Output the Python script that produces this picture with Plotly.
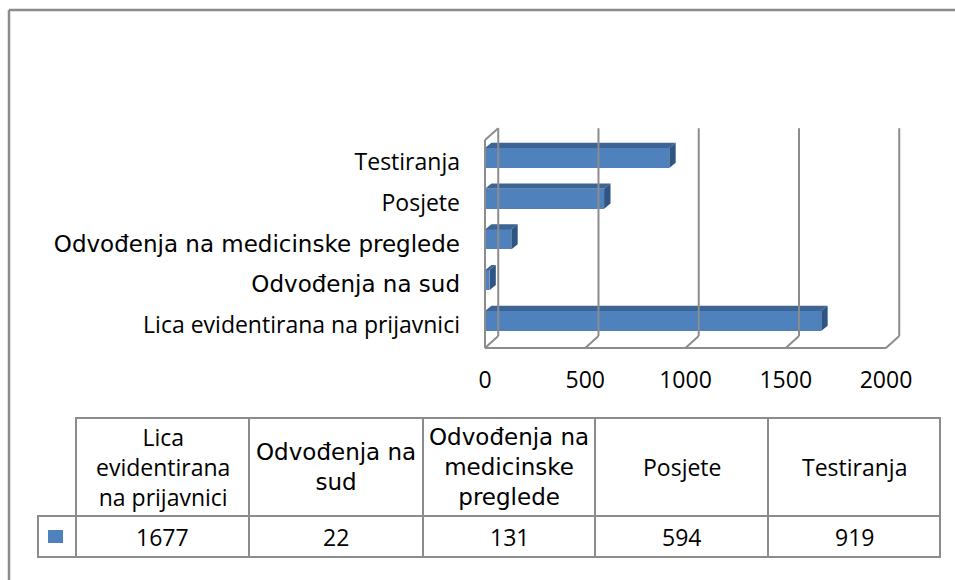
import plotly.graph_objects as go

# data, bottom to top as drawn in the chart
categories = ["Lica evidentirana na prijavnici", "Odvođenja na sud",
              "Odvođenja na medicinske preglede", "Posjete", "Testiranja"]
values = [1677, 22, 131, 594, 919]
x_ticks = [0, 500, 1000, 1500, 2000]
table_headers = ["Lica<br>evidentirana<br>na prijavnici", "Odvođenja na<br>sud",
                 "Odvođenja na<br>medicinske<br>preglede", "Posjete", "Testiranja"]

W, H = 955, 580
NARROW = "Open Sans"
WIDE = "DejaVu Sans"
wide_labels = {"Odvođenja na sud", "Odvođenja na medicinske preglede"}

FRONT = "#4F81BD"
TOP = "#3C6494"
SIDE = "#2F5584"
GRID = "#8C8C8C"

# pixel geometry of the plot box
px0, px_per = 485.0, 0.2005          # x pixel of value 0, pixels per unit
py0, py_per = 321.0, 40.75           # y pixel of category 0, pixels per category
xr = [-10, 2080]
yr = [-0.72, 4.76]
dom_x = [(px0 + xr[0] * px_per) / W, (px0 + xr[1] * px_per) / W]
dom_y = [1 - (py0 - yr[0] * py_per) / H, 1 - (py0 - yr[1] * py_per) / H]

bar_w = 0.49
dx, dy = 32, 0.13          # bar depth
wx, wy = 66, 0.29          # wall depth
floor = -0.66
wall_top = 4.44

fig = go.Figure()

# back wall grid, floor and left wall
shapes = []
line = dict(color=GRID, width=2)
for t in x_ticks:
    shapes.append(dict(type="line", xref="x", yref="y", x0=t + wx, x1=t + wx,
                       y0=floor + wy, y1=wall_top + wy, line=line))
    shapes.append(dict(type="line", xref="x", yref="y", x0=t, x1=t + wx,
                       y0=floor, y1=floor + wy, line=line))
shapes.append(dict(type="line", xref="x", yref="y", x0=0, x1=x_ticks[-1],
                   y0=floor, y1=floor, line=line))
shapes.append(dict(type="line", xref="x", yref="y", x0=0, x1=0,
                   y0=floor, y1=wall_top, line=line))
shapes.append(dict(type="line", xref="x", yref="y", x0=0, x1=wx,
                   y0=wall_top, y1=wall_top + wy, line=line))

fig.add_trace(go.Bar(
    y=list(range(len(values))), x=values, orientation="h", width=bar_w,
    marker=dict(color=FRONT, line=dict(width=0)), hoverinfo="x+text",
    text=categories, textposition="none", showlegend=False,
))

# 3d top and side faces of the bars
tx, ty, sx, sy = [], [], [], []
for i, v in enumerate(values):
    yt = i + bar_w / 2
    yb = i - bar_w / 2
    tx += [0, v, v + dx, dx, 0, None]
    ty += [yt, yt, yt + dy, yt + dy, yt, None]
    sx += [v, v + dx, v + dx, v, v, None]
    sy += [yb, yb + dy, yt + dy, yt, yb, None]
fig.add_trace(go.Scatter(x=tx, y=ty, fill="toself", fillcolor=TOP, mode="lines",
                         line=dict(width=0, color=TOP), hoverinfo="skip", showlegend=False))
fig.add_trace(go.Scatter(x=sx, y=sy, fill="toself", fillcolor=SIDE, mode="lines",
                         line=dict(width=0, color=SIDE), hoverinfo="skip", showlegend=False))

ticktext = []
for c in categories:
    if c in wide_labels:
        ticktext.append(f'<span style="font-family:{WIDE};font-size:23px">{c}</span>')
    else:
        ticktext.append(c)

# data table below the chart
def px(x):
    return x / W

def py(y):
    return 1 - y / H

col_edges = [76, 249, 423, 595, 768, 940]
t_top, t_mid, t_bot, t_left = 418, 516, 557, 38
tline = dict(color=GRID, width=2)
shapes.append(dict(type="rect", xref="paper", yref="paper", x0=px(col_edges[0]), x1=px(col_edges[-1]),
                   y0=py(t_mid), y1=py(t_top), line=tline))
shapes.append(dict(type="rect", xref="paper", yref="paper", x0=px(t_left), x1=px(col_edges[-1]),
                   y0=py(t_bot), y1=py(t_mid), line=tline))
for e in col_edges[1:-1]:
    shapes.append(dict(type="line", xref="paper", yref="paper", x0=px(e), x1=px(e),
                       y0=py(t_bot), y1=py(t_top), line=tline))
shapes.append(dict(type="line", xref="paper", yref="paper", x0=px(col_edges[0]), x1=px(col_edges[0]),
                   y0=py(t_bot), y1=py(t_mid), line=tline))
# legend key
shapes.append(dict(type="rect", xref="paper", yref="paper", x0=px(48), x1=px(63),
                   y0=py(543), y1=py(530), fillcolor=FRONT, line=dict(width=0)))
# outer frame
shapes.append(dict(type="line", xref="paper", yref="paper", x0=px(9), x1=px(9),
                   y0=0, y1=py(10), line=dict(color=GRID, width=2.5)))
shapes.append(dict(type="line", xref="paper", yref="paper", x0=px(9), x1=1,
                   y0=py(10), y1=py(10), line=dict(color=GRID, width=2.5)))

annotations = []
for j, (hdr, cat, v) in enumerate(zip(table_headers, categories, values)):
    cx = px((col_edges[j] + col_edges[j + 1]) / 2)
    fam = WIDE if cat in wide_labels else NARROW
    annotations.append(dict(x=cx, y=py((t_top + t_mid) / 2), xref="paper", yref="paper",
                            text=hdr, showarrow=False, xanchor="center", yanchor="middle",
                            font=dict(family=fam, size=23, color="#000")))
    annotations.append(dict(x=cx, y=py((t_mid + t_bot) / 2), xref="paper", yref="paper",
                            text=str(v), showarrow=False, xanchor="center", yanchor="middle",
                            font=dict(family=NARROW, size=23, color="#000")))

fig.update_layout(
    width=W, height=H,
    margin=dict(l=0, r=0, t=0, b=0),
    paper_bgcolor="white", plot_bgcolor="rgba(0,0,0,0)",
    shapes=shapes, annotations=annotations,
    xaxis=dict(domain=dom_x, range=xr, tickvals=x_ticks, showgrid=False, zeroline=False,
               showline=False, ticks="", ticklabelstandoff=14, automargin=False,
               tickfont=dict(family=NARROW, size=23, color="#000")),
    yaxis=dict(domain=dom_y, range=yr, tickvals=[i - 0.1 for i in range(len(categories))],
               ticktext=ticktext, showgrid=False, zeroline=False, showline=False, ticks="",
               automargin=False,
               ticklabelstandoff=22, tickfont=dict(family=NARROW, size=23, color="#000")),
    bargap=0,
)

# the page's default body margin would shift the figure
fig.write_html("out.html", config={"displayModeBar": False},
               post_script="document.body.style.margin='0';")
